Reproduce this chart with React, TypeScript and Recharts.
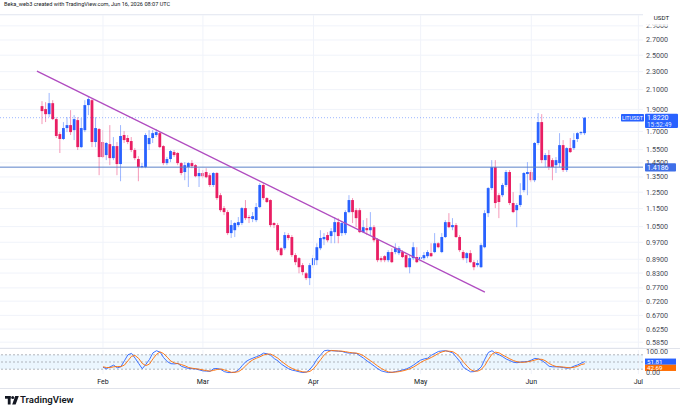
import React from 'react';
import {
  Bar,
  CartesianGrid,
  ComposedChart,
  Line,
  ReferenceArea,
  ReferenceLine,
  XAxis,
  YAxis,
} from 'recharts';

// daily candles, index 0 = Jan 15, last = Jun 16 (in progress)
const open = [
  1.932, 1.903, 1.855, 1.961, 1.809, 1.677, 1.636, 1.729, 1.755, 1.711,
  1.8, 1.57, 1.711, 1.942, 1.991, 1.611, 1.72, 1.611, 1.508, 1.594,
  1.485, 1.578, 1.441, 1.669, 1.644, 1.619, 1.547, 1.478, 1.419, 1.419,
  1.594, 1.644, 1.669, 1.685, 1.578, 1.448, 1.478, 1.531, 1.524, 1.448,
  1.384, 1.419, 1.448, 1.433, 1.355, 1.377, 1.384, 1.362, 1.296, 1.377,
  1.231, 1.153, 1.13, 1.016, 1.031, 1.058, 1.069, 1.153, 1.102, 1.091,
  1.085, 1.159, 1.296, 1.213, 1.201, 1.069, 1.058, 0.941, 0.941, 1.006,
  0.996, 0.909, 0.895, 0.864, 0.829, 0.809, 0.864, 0.886, 0.941, 0.985,
  1.006, 1.001, 1.021, 1.074, 1.016, 1.016, 1.13, 1.201, 1.141, 1.141,
  1.021, 1.042, 1.031, 1.047, 0.985, 0.895, 0.904, 0.886, 0.923, 0.923,
  0.918, 0.923, 0.909, 0.855, 0.895, 0.9, 0.891, 0.895, 0.904, 0.918,
  0.923, 0.965, 0.923, 0.996, 1.074, 1.047, 1.058, 0.996, 0.923, 0.895,
  0.918, 0.877, 0.864, 0.855, 0.946, 1.124, 1.276, 1.419, 1.231, 1.231,
  1.296, 1.384, 1.183, 1.141, 1.171, 1.263, 1.37, 1.384, 1.328, 1.603,
  1.782, 1.47, 1.508, 1.47, 1.433, 1.448, 1.586, 1.398, 1.562, 1.562,
  1.636, 1.685, 1.685,
];
const high = [
  1.981, 1.971, 2.065, 1.991, 1.827, 1.694, 1.782, 1.827, 1.893, 1.846,
  1.827, 1.818, 1.991, 2.022, 2.002, 1.827, 1.729, 1.711, 1.611, 1.755,
  1.652, 1.611, 1.755, 1.702, 1.669, 1.652, 1.562, 1.5, 1.448, 1.685,
  1.711, 1.711, 1.72, 1.694, 1.586, 1.493, 1.547, 1.547, 1.531, 1.455,
  1.455, 1.455, 1.47, 1.441, 1.411, 1.398, 1.411, 1.377, 1.384, 1.384,
  1.244, 1.165, 1.141, 1.085, 1.074, 1.102, 1.159, 1.201, 1.113, 1.13,
  1.183, 1.308, 1.308, 1.219, 1.206, 1.074, 1.069, 0.946, 1.021, 1.016,
  1.006, 0.918, 0.9, 0.873, 0.834, 0.873, 0.909, 0.965, 1.031, 1.016,
  1.021, 1.042, 1.102, 1.096, 1.074, 1.141, 1.231, 1.213, 1.153, 1.153,
  1.085, 1.096, 1.13, 1.058, 0.991, 0.904, 0.909, 0.932, 0.941, 0.965,
  0.951, 0.932, 0.918, 0.909, 0.97, 0.946, 0.909, 0.923, 0.932, 0.965,
  1.016, 0.97, 1.016, 1.085, 1.124, 1.096, 1.069, 1.006, 0.932, 0.923,
  0.932, 0.886, 0.886, 0.965, 1.141, 1.283, 1.47, 1.47, 1.244, 1.308,
  1.398, 1.398, 1.25, 1.183, 1.308, 1.384, 1.455, 1.398, 1.611, 1.865,
  1.855, 1.524, 1.547, 1.485, 1.493, 1.685, 1.627, 1.57, 1.644, 1.685,
  1.694, 1.702, 1.827,
];
const low = [
  1.764, 1.782, 1.827, 1.8, 1.644, 1.524, 1.627, 1.694, 1.669, 1.627,
  1.547, 1.562, 1.694, 1.846, 1.57, 1.57, 1.362, 1.485, 1.47, 1.433,
  1.47, 1.362, 1.321, 1.603, 1.594, 1.531, 1.47, 1.321, 1.411, 1.411,
  1.547, 1.603, 1.652, 1.562, 1.433, 1.433, 1.455, 1.493, 1.433, 1.362,
  1.328, 1.283, 1.411, 1.348, 1.283, 1.341, 1.341, 1.283, 1.283, 1.201,
  1.13, 1.113, 1.006, 0.991, 0.996, 1.047, 1.058, 1.085, 1.069, 1.074,
  1.074, 1.153, 1.201, 1.183, 1.047, 1.042, 0.923, 0.904, 0.932, 0.98,
  0.9, 0.864, 0.829, 0.821, 0.801, 0.781, 0.851, 0.864, 0.932, 0.956,
  0.97, 0.965, 0.965, 0.965, 1.001, 1.006, 1.124, 1.069, 1.047, 1.016,
  1.016, 1.006, 1.006, 0.97, 0.877, 0.877, 0.877, 0.877, 0.873, 0.913,
  0.909, 0.895, 0.851, 0.829, 0.886, 0.873, 0.877, 0.886, 0.895, 0.9,
  0.918, 0.941, 0.918, 0.991, 1.042, 1.031, 0.991, 0.923, 0.886, 0.873,
  0.873, 0.842, 0.855, 0.851, 0.941, 1.102, 1.263, 1.153, 1.096, 1.219,
  1.283, 1.171, 1.124, 1.047, 1.159, 1.25, 1.231, 1.315, 1.315, 1.586,
  1.448, 1.419, 1.398, 1.328, 1.377, 1.419, 1.384, 1.384, 1.524, 1.547,
  1.611, 1.669, 1.669,
];
const close = [
  1.884, 1.855, 1.961, 1.809, 1.661, 1.636, 1.729, 1.755, 1.694, 1.809,
  1.57, 1.729, 1.942, 2.002, 1.611, 1.729, 1.493, 1.493, 1.603, 1.485,
  1.578, 1.441, 1.661, 1.627, 1.611, 1.547, 1.485, 1.419, 1.426, 1.669,
  1.644, 1.685, 1.694, 1.57, 1.448, 1.478, 1.539, 1.508, 1.448, 1.377,
  1.433, 1.448, 1.426, 1.355, 1.377, 1.355, 1.348, 1.296, 1.377, 1.213,
  1.141, 1.13, 1.016, 1.058, 1.069, 1.074, 1.153, 1.096, 1.096, 1.107,
  1.159, 1.296, 1.213, 1.189, 1.058, 1.058, 0.932, 0.909, 1.006, 0.991,
  0.909, 0.877, 0.855, 0.834, 0.809, 0.864, 0.895, 0.946, 0.991, 0.996,
  0.98, 1.026, 1.074, 1.001, 1.069, 1.13, 1.201, 1.13, 1.096, 1.021,
  1.047, 1.031, 1.047, 0.98, 0.886, 0.886, 0.886, 0.923, 0.877, 0.941,
  0.941, 0.9, 0.855, 0.895, 0.946, 0.877, 0.9, 0.909, 0.923, 0.904,
  0.965, 0.946, 0.996, 1.074, 1.047, 1.058, 0.996, 0.932, 0.895, 0.918,
  0.877, 0.855, 0.873, 0.956, 1.124, 1.276, 1.419, 1.183, 1.189, 1.296,
  1.384, 1.183, 1.13, 1.171, 1.231, 1.377, 1.384, 1.328, 1.603, 1.782,
  1.47, 1.508, 1.419, 1.419, 1.47, 1.586, 1.398, 1.562, 1.531, 1.627,
  1.685, 1.694, 1.822,
];

// Stoch RSI, starts at index 17 (Feb 1)
const stochStart = 17;
const stochK = [
  28, 22, 30, 37, 26, 30, 55, 80, 86, 66,
  44, 22, 40, 60, 88, 97, 91, 68, 52, 43,
  42, 44, 32, 27, 23, 22, 21, 17, 13, 12,
  11, 22, 23, 19, 10, 6, 6, 8, 17, 35,
  51, 60, 66, 72, 78, 87, 84, 78, 64, 55,
  41, 31, 22, 16, 13, 9, 6, 8, 20, 38,
  62, 80, 97, 99, 97, 96, 95, 94, 89, 87,
  87, 86, 76, 66, 54, 44, 33, 22, 13, 9,
  6, 7, 10, 13, 17, 21, 28, 37, 48, 58,
  63, 66, 78, 86, 94, 96, 97, 93, 88, 70,
  52, 28, 18, 9, 10, 16, 30, 62, 90, 97,
  86, 80, 72, 62, 56, 49, 47, 50, 51, 52,
  58, 65, 63, 56, 45, 32, 30, 30, 29, 27,
  24, 26, 33, 38, 45, 51.81,
];
const stochD = [
  30, 27, 27, 30, 31, 31, 37, 55, 74, 77,
  65, 44, 35, 41, 63, 82, 92, 85, 70, 54,
  46, 43, 39, 34, 27, 24, 22, 20, 17, 14,
  12, 15, 19, 21, 17, 12, 7, 7, 10, 20,
  34, 49, 59, 66, 72, 79, 83, 83, 75, 66,
  53, 42, 31, 23, 17, 13, 9, 8, 11, 22,
  40, 60, 80, 92, 98, 97, 96, 95, 93, 90,
  88, 87, 83, 76, 65, 55, 44, 33, 23, 15,
  9, 7, 8, 10, 13, 17, 22, 29, 38, 48,
  56, 62, 69, 77, 86, 92, 96, 95, 93, 84,
  70, 50, 33, 18, 12, 12, 19, 36, 61, 83,
  91, 88, 79, 71, 63, 56, 51, 49, 49, 51,
  54, 58, 62, 61, 55, 44, 36, 31, 30, 29,
  27, 26, 28, 32, 39, 42.69,
];

const monthTicks = [17, 45, 76, 106, 137, 167];
const monthLabels = ['Feb', 'Mar', 'Apr', 'May', 'Jun', 'Jul'];
const priceTicks = [
  0.585, 0.625, 0.67, 0.72, 0.77, 0.83, 0.89, 0.97, 1.05, 1.15,
  1.25, 1.35, 1.45, 1.55, 1.7, 1.9, 2.1, 2.3, 2.5, 2.7, 2.9,
];
const trendLine = [
  { t: -1.5, price: 2.307 },
  { t: 124, price: 0.7535 },
];
const supportLevel = 1.4186;
const lastPrice = 1.822;
const lastTime = '15:52:49';

const UP = '#2962ff';
const DOWN = '#e91e63';
const UP_WICK = 'rgba(41,98,255,0.45)';
const DOWN_WICK = 'rgba(233,30,99,0.45)';
const GRID = '#f0f3fa';
const TEXT = '#4a4d57';
const FONT = "Roboto, 'Liberation Sans', sans-serif";

const X_DOMAIN: [number, number] = [-11.85, 168.3];
const AXIS_X = 646;

const candles = open.map((o, i) => ({
  t: i,
  open: o,
  high: high[i],
  low: low[i],
  close: close[i],
  range: [low[i], high[i]],
}));

const stochData = stochK.map((k, i) => ({ t: stochStart + i, k, d: stochD[i] }));

function Candle(props: any) {
  const { x, y, width, height } = props;
  const d = props.payload ?? props;
  if (x == null || y == null || d.high == null) return null;
  const top = Math.min(y, y + height);
  const h = Math.abs(height);
  const lh = Math.log(d.high);
  const ll = Math.log(d.low);
  const toY = (p: number) => top + (lh === ll ? 0 : ((lh - Math.log(p)) / (lh - ll)) * h);
  const up = d.close >= d.open;
  const cx = x + width / 2;
  const bTop = toY(Math.max(d.open, d.close));
  const bBot = toY(Math.min(d.open, d.close));
  return (
    <g>
      <line x1={cx} x2={cx} y1={top} y2={top + h} stroke={up ? UP_WICK : DOWN_WICK} strokeWidth={1} />
      <rect x={cx - 1.4} y={bTop} width={2.8} height={Math.max(bBot - bTop, 0.8)} fill={up ? UP : DOWN} />
    </g>
  );
}

function PriceTick(props: any) {
  const { y, payload } = props;
  return (
    <text x={AXIS_X} y={y} dy={2.5} fontSize={7.2} fill={TEXT} fontFamily={FONT}>
      {Number(payload.value).toFixed(4)}
    </text>
  );
}

function StochTick(props: any) {
  const { y, payload } = props;
  const dy = payload.value === 100 ? 4 : 1;
  return (
    <text x={AXIS_X} y={y} dy={dy} fontSize={7.2} fill={TEXT} fontFamily={FONT}>
      {Number(payload.value).toFixed(2)}
    </text>
  );
}

function MonthTick(props: any) {
  const { x, payload } = props;
  const i = monthTicks.indexOf(payload.value);
  return (
    <text x={x} y={35.5} textAnchor="middle" fontSize={7} fill="#131722" fontFamily={FONT}>
      {monthLabels[i]}
    </text>
  );
}

function LastPriceTag(props: any) {
  const vb = props.viewBox;
  if (!vb) return null;
  const right = vb.x + vb.width;
  const y = vb.y;
  return (
    <g fontFamily={FONT}>
      <rect x={right - 22} y={y - 3.8} width={23} height={7.6} fill={UP} rx={0.8} />
      <text x={right - 10.5} y={y + 2} textAnchor="middle" fontSize={5.4} fill="#fff">LITUSDT</text>
      <rect x={right + 2} y={y - 4} width={33} height={14.2} fill={UP} rx={1} />
      <text x={right + 4} y={y + 2.3} fontSize={7} fill="#fff">{lastPrice.toFixed(4)}</text>
      <text x={right + 4} y={y + 8.9} fontSize={6.4} fill="#dfe7ff">{lastTime}</text>
    </g>
  );
}

function LevelTag(props: any) {
  const vb = props.viewBox;
  if (!vb) return null;
  const right = vb.x + vb.width;
  return (
    <g fontFamily={FONT}>
      <rect x={right + 2} y={vb.y - 3.8} width={31} height={8.2} fill="#3f6fe8" rx={0.8} />
      <text x={right + 4} y={vb.y + 2.5} fontSize={7} fill="#fff">{props.text}</text>
    </g>
  );
}

function StochTag(props: any) {
  const vb = props.viewBox;
  if (!vb) return null;
  const right = vb.x + vb.width;
  const y = vb.y + (props.dy ?? 0);
  return (
    <g fontFamily={FONT}>
      <rect x={right + 2} y={y - 3} width={31} height={6.2} fill={props.color} />
      <text x={right + 4} y={y + 2} fontSize={6.2} fill="#fff">{props.text}</text>
    </g>
  );
}

function TvLogo() {
  return (
    <svg width={14} height={9} style={{ position: 'absolute', left: 5, top: 396 }}>
      <rect x={0} y={0} width={5.6} height={2.7} fill="#131722" />
      <rect x={2.8} y={0} width={2.8} height={8.5} fill="#131722" />
      <circle cx={7.7} cy={1.6} r={1.5} fill="#131722" />
      <polygon points="10.2,0 13.8,0 10.6,8.5 7.2,8.5" fill="#131722" />
    </svg>
  );
}

export default function App() {
  return (
    <div
      style={{
        position: 'absolute',
        left: 0,
        top: 0,
        width: 680,
        height: 413,
        background: '#fff',
        fontFamily: FONT,
        overflow: 'hidden',
      }}
    >
      <div style={{ position: 'absolute', left: 4, top: 1, fontSize: 5.6, color: '#131722', whiteSpace: 'nowrap' }}>
        Beka_web3 created with TradingView.com, Jun 16, 2026 08:07 UTC
      </div>
      <div style={{ position: 'absolute', left: 0, top: 14, width: 643, height: 1, background: '#e0e3eb' }} />

      <div style={{ position: 'absolute', left: 0, top: 0 }}>
        <ComposedChart width={680} height={348} data={candles} margin={{ top: 15, right: 0, bottom: 0, left: 0 }}>
          <CartesianGrid vertical={false} stroke={GRID} />
          <XAxis type="number" dataKey="t" domain={X_DOMAIN} allowDataOverflow hide />
          <YAxis
            orientation="right"
            width={37}
            scale="log"
            domain={[0.568, 3.064]}
            allowDataOverflow
            ticks={priceTicks}
            interval={0}
            axisLine={false}
            tickLine={false}
            tick={<PriceTick />}
          />
          {monthTicks.map((m) => (
            <ReferenceLine key={m} x={m} stroke={GRID} />
          ))}
          <ReferenceLine
            y={supportLevel}
            stroke="#5b82c9"
            strokeWidth={1}
            label={<LevelTag text={supportLevel.toFixed(4)} />}
          />
          <ReferenceLine
            y={lastPrice}
            stroke="rgba(41,98,255,0.45)"
            strokeDasharray="1 2"
            label={<LastPriceTag />}
          />
          <Bar dataKey="range" barSize={3} shape={<Candle />} isAnimationActive={false} />
          <ReferenceLine
            segment={trendLine.map((p) => ({ x: p.t, y: p.price }))}
            stroke="#b04cc0"
            strokeWidth={1.3}
            ifOverflow="visible"
          />
        </ComposedChart>
      </div>

      <div
        style={{
          position: 'absolute',
          left: 643,
          top: 12,
          width: 37,
          height: 12,
          background: '#fff',
          fontSize: 6.2,
          color: '#131722',
          textAlign: 'center',
          lineHeight: '12px',
        }}
      >
        USDT
      </div>
      <div
        style={{
          position: 'absolute',
          left: 643,
          top: 24,
          width: 37,
          height: 1.6,
          background: 'rgba(255,255,255,0.75)',
        }}
      />

      <div style={{ position: 'absolute', left: 0, top: 348, width: 680, height: 1, background: '#e0e3eb' }} />

      <div style={{ position: 'absolute', left: 0, top: 348 }}>
        <ComposedChart width={680} height={40} data={stochData} margin={{ top: 2, right: 0, bottom: 0, left: 0 }}>
          <XAxis
            type="number"
            dataKey="t"
            domain={X_DOMAIN}
            allowDataOverflow
            ticks={monthTicks}
            interval={0}
            height={14}
            axisLine={false}
            tickLine={false}
            tick={<MonthTick />}
          />
          <YAxis
            orientation="right"
            width={37}
            domain={[0, 100]}
            ticks={[0, 100]}
            interval={0}
            axisLine={false}
            tickLine={false}
            tick={<StochTick />}
          />
          {monthTicks.map((m) => (
            <ReferenceLine key={m} x={m} stroke={GRID} />
          ))}
          <ReferenceArea y1={20} y2={80} fill="#2196f3" fillOpacity={0.09} stroke="none" />
          <ReferenceLine y={80} stroke="#9598a1" strokeDasharray="2 2" strokeWidth={0.7} />
          <ReferenceLine y={50} stroke="#9598a1" strokeDasharray="2 2" strokeWidth={0.7} />
          <ReferenceLine y={20} stroke="#9598a1" strokeDasharray="2 2" strokeWidth={0.7} />
          <Line type="linear" dataKey="k" stroke="#2962ff" strokeWidth={0.9} dot={false} isAnimationActive={false} />
          <Line type="linear" dataKey="d" stroke="#ff6d00" strokeWidth={0.9} dot={false} isAnimationActive={false} />
          <ReferenceLine
            y={stochK[stochK.length - 1]}
            stroke="none"
            label={<StochTag text={stochK[stochK.length - 1].toFixed(2)} color="#2962ff" />}
          />
          <ReferenceLine
            y={stochD[stochD.length - 1]}
            stroke="none"
            label={<StochTag text={stochD[stochD.length - 1].toFixed(2)} color="#ff6d00" dy={4} />}
          />
        </ComposedChart>
      </div>

      <div style={{ position: 'absolute', left: 0, top: 388, width: 680, height: 1, background: '#e0e3eb' }} />

      <TvLogo />
      <div
        style={{
          position: 'absolute',
          left: 20,
          top: 394,
          fontSize: 9.6,
          fontWeight: 600,
          color: '#131722',
          lineHeight: '12px',
        }}
      >
        TradingView
      </div>
    </div>
  );
}
